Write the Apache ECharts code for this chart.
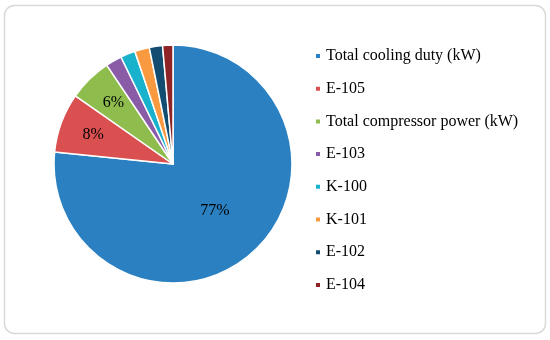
<!DOCTYPE html>
<html><head><meta charset="utf-8">
<script src="https://cdn.jsdelivr.net/npm/echarts@6/dist/echarts.min.js"></script>
<style>html,body{margin:0;padding:0;background:#fff}#c{width:550px;height:340px}</style>
</head><body><div id="c"></div>
<script>
const categories = ["Total cooling duty (kW)","E-105","Total compressor power (kW)","E-103","K-100","K-101","E-102","E-104"];
const values = [76.6, 8.1, 5.9, 2.2, 2.0, 2.0, 1.8, 1.4];
const colors = ["#2A80C0","#DA5050","#8EBD4E","#8A5CA8","#18B2CC","#F99A40","#124C70","#8F2426"];
const labelShown = [true, true, true, false, false, false, false, false];

const total = values.reduce((a,b)=>a+b,0);
const R = 119;
let cum = 0;
const data = categories.map((name,i)=>{
  const mid = (cum + values[i]/2)/total*2*Math.PI;
  cum += values[i];
  const k = i === 0 ? 0 : 0.19*R;
  return {
    name, value: values[i],
    itemStyle:{color:colors[i]},
    label:{show:labelShown[i], offset:[Math.sin(mid)*k, -Math.cos(mid)*k]}
  };
});

const chart = echarts.init(document.getElementById('c'), null, {renderer:'canvas'});
chart.setOption({
  animation:false,
  backgroundColor:'#fff',
  graphic:[{type:'rect', shape:{x:4.5,y:5.5,width:541,height:328,r:10}, style:{fill:'none',stroke:'#d9d9d9',lineWidth:1.5}, silent:true}],
  legend:{
    orient:'vertical', left:309, top:43,
    itemWidth:6, itemHeight:6, itemGap:16.7, icon:'rect',
    textStyle:{fontFamily:'Liberation Serif', fontSize:16, color:'#000', lineHeight:16},
    data:categories
  },
  series:[{
    type:'pie', center:[173,164], radius:[0,R], startAngle:90, clockwise:true,
    avoidLabelOverlap:false,
    itemStyle:{borderColor:'#fff', borderWidth:1.5},
    label:{position:'inside', formatter:(p)=>Math.round(p.percent)+'%', fontFamily:'Liberation Serif', fontSize:16, color:'#000'},
    labelLine:{show:false},
    emphasis:{disabled:true},
    data
  }]
});
</script></body></html>
